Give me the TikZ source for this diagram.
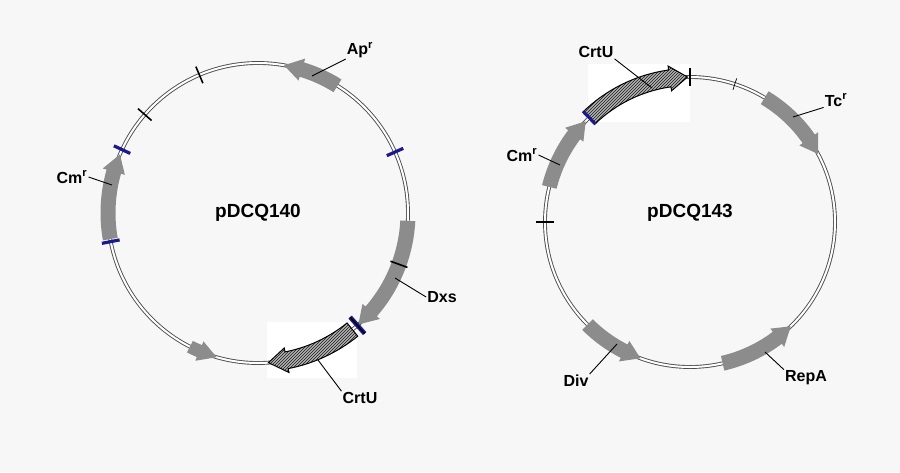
\documentclass[tikz,border=0pt]{standalone}
\usepackage{fontspec}
\setmainfont{Liberation Sans}
\usetikzlibrary{patterns}
\definecolor{bg}{HTML}{F7F7F7}
\definecolor{tickblue}{HTML}{1A1A8C}
\definecolor{feat}{HTML}{8C8C8C}
\tikzset{
  plasmid/.style={draw=black!70,double=white,double distance=2pt,line width=0.9pt},
  blacktick/.style={draw=black,line width=1.6pt},
  bluetick/.style={draw=tickblue,line width=3.2pt},
  grayfeat/.style={fill=feat},
  hatchfeat/.style={draw=black,line width=1pt,preaction={fill=black!30},pattern=north east lines,pattern color=black!90},
  lbl/.style={font=\bfseries\fontsize{16}{18}\selectfont,inner sep=1pt},
  title/.style={font=\bfseries\fontsize{19}{22}\selectfont},
  leader/.style={draw=black,line width=0.9pt}
}
% #1 r, #2 start, #3 tip, #4 half width, #5 style (inside a shifted scope)
\newcommand{\arcarr}[5]{%
  \pgfmathsetmacro\hd{(#3>#2)?-7:7}%
  \pgfmathsetmacro\hb{#3+\hd}%
  \path[#5] (#2:#1+#4) arc[start angle=#2,end angle=\hb,radius=#1+#4] -- (\hb:#1+#4+4) -- (#3:#1) -- (\hb:#1-#4-4) -- (\hb:#1-#4) arc[start angle=\hb,end angle=#2,radius=#1-#4] -- cycle;}
\newcommand{\rtick}[3]{\draw[#3] (#1:#2-9) -- (#1:#2+9);}
\begin{document}
\begin{tikzpicture}[x=1pt,y=-1pt]
\fill[bg] (0,0) rectangle (900,472);
\useasboundingbox (0,0) rectangle (900,472);
% ---------- left plasmid ----------
\fill[white] (267,322) rectangle (357,378);
\begin{scope}[shift={(258,213)},y=1pt]
  \draw[plasmid] (0,0) circle[radius=150];
  \arcarr{150}{58}{80}{7.5}{grayfeat}
  \arcarr{150}{190}{157}{7.5}{grayfeat}
  \arcarr{150}{-3}{-48}{7.5}{grayfeat}
  \arcarr{150}{-117}{-106}{6.5}{grayfeat}
  \arcarr{150}{-51}{-86}{8.5}{hatchfeat}
  \rtick{113}{150}{blacktick}
  \rtick{139}{150}{blacktick}
  \rtick{-20}{150}{blacktick}
  \rtick{155}{150}{bluetick}
  \rtick{191}{150}{bluetick}
  \rtick{24}{150}{bluetick}
  \draw[tickblue,line width=4.5pt] (-48.5:139) -- (-48.5:161);
  \draw[black,line width=1.3pt] (-48.5:139) -- (-48.5:161);
\end{scope}
\node[title] (t1) at (258,213) {pDCQ140};
\node[lbl] (apr) at (360,50) {Ap\textsuperscript{r}};
\node[lbl] (cmr1) at (72,177) {Cm\textsuperscript{r}};
\node[lbl] (dxs) at (442,297) {Dxs};
\node[lbl] (crtu1) at (360,398) {CrtU};
\coordinate (apr1) at (312,76);
\coordinate (cmr1a) at (112,185);
\coordinate (dxsa) at (395,278);
\coordinate (crtu1a) at (318,360);
\draw[leader] (apr.south west) -- (apr1);
\draw[leader] (cmr1.east) -- (cmr1a);
\draw[leader] (dxs.west) -- (dxsa);
\draw[leader] (crtu1.north west) -- (crtu1a);
% ---------- right plasmid ----------
\fill[white] (588,64) rectangle (690,122);
\begin{scope}[shift={(690,222)},y=1pt]
  \draw[plasmid] (0,0) circle[radius=145];
  \arcarr{145}{134}{91}{8.5}{hatchfeat}
  \arcarr{145}{59}{28}{7.5}{grayfeat}
  \arcarr{145}{166}{136}{7.5}{grayfeat}
  \arcarr{145}{-135}{-110}{7.5}{grayfeat}
  \arcarr{145}{-77}{-46}{7.5}{grayfeat}
  \rtick{90}{145}{blacktick}
  \draw[black,line width=0.7pt] (72:139) -- (72:151);
  \rtick{180}{145}{blacktick}
  \rtick{134}{145}{bluetick}
\end{scope}
\node[title] (t2) at (690,213) {pDCQ143};
\node[lbl] (crtu2) at (596,52) {CrtU};
\node[lbl] (tcr) at (836,100) {Tc\textsuperscript{r}};
\node[lbl] (cmr2) at (522,155) {Cm\textsuperscript{r}};
\node[lbl] (div) at (576,381) {Div};
\node[lbl] (repa) at (806,378) {RepA};
\coordinate (crtu2a) at (652,88);
\coordinate (tcra) at (793,117);
\coordinate (cmr2a) at (560,165);
\coordinate (diva) at (617,344);
\coordinate (repaa) at (765,352);
\draw[leader] (crtu2.south east) -- (crtu2a);
\draw[leader] (tcr.south west) -- (tcra);
\draw[leader] (cmr2.east) -- (cmr2a);
\draw[leader] (div.north east) -- (diva);
\draw[leader] (repa.north west) -- (repaa);
\end{tikzpicture}
\end{document}
